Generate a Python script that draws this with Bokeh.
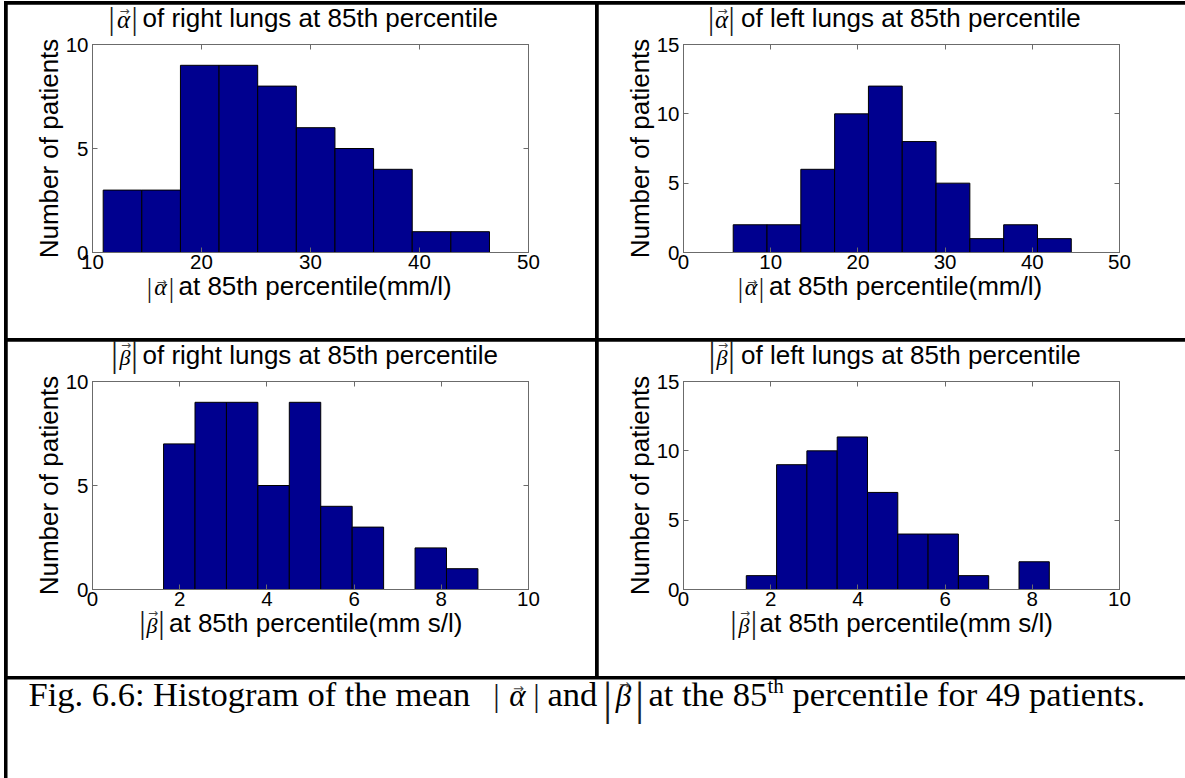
import math

from bokeh.embed import file_html
from bokeh.layouts import column, row
from bokeh.models import FixedTicker, Label, LinearAxis, Range1d
from bokeh.plotting import figure
from bokeh.resources import INLINE

# ---- histogram data: equal-width bins between lo and hi, counts per bin ----
alpha_right_range = (10.98, 46.42)
alpha_right_counts = [3, 3, 9, 9, 8, 6, 5, 4, 1, 1]

alpha_left_range = (5.70, 44.47)
alpha_left_counts = [2, 2, 6, 10, 12, 8, 5, 1, 2, 1]

beta_right_range = (1.63, 8.84)
beta_right_counts = [7, 9, 9, 5, 9, 4, 3, 0, 2, 1]

beta_left_range = (1.44, 8.39)
beta_left_counts = [1, 9, 10, 11, 7, 4, 4, 1, 0, 2]

alpha_x_ticks = [10, 20, 30, 40, 50]
alpha_left_x_ticks = [0, 10, 20, 30, 40, 50]
beta_x_ticks = [0, 2, 4, 6, 8, 10]
y_ticks_10 = [0, 5, 10]
y_ticks_15 = [0, 5, 10, 15]

BAR_FILL = "#00008F"
FRAME = "#6b6b6b"
SANS = "Liberation Sans"
SERIF = "Liberation Serif"
ARROWFONT = "DejaVu Sans"
PAGE_W, PAGE_H = 1185, 778

# distance (in em) from the centre of the ascent/descent box down to the baseline
MID_TO_BASE = {SANS: 0.3465, SERIF: 0.3375, ARROWFONT: 0.346}
# distance (in em) from the box centre down to the centre of the "|" glyph
BAR_DROP = 0.103


def bin_edges(rng, n):
    lo, hi = rng
    w = (hi - lo) / n
    return [lo + i * w for i in range(n)], [lo + (i + 1) * w for i in range(n)]


def style_axis(ax, ticks, show_labels):
    ax.ticker = FixedTicker(ticks=ticks)
    ax.major_tick_in = 5
    ax.major_tick_out = 0
    ax.minor_tick_line_color = None
    ax.axis_line_color = FRAME
    ax.major_tick_line_color = FRAME
    ax.major_label_text_font = SANS
    ax.major_label_text_font_size = "20.5px"
    ax.major_label_text_color = "black" if show_labels else None


def panel(rng, counts, x_range, x_ticks, y_max, y_ticks, width, height):
    p = figure(width=width, height=height, frame_width=436, frame_height=208,
               x_range=Range1d(*x_range), y_range=Range1d(0, y_max),
               min_border_left=85, min_border_right=width - 85 - 436,
               min_border_top=40, min_border_bottom=height - 40 - 208,
               output_backend="svg", toolbar_location=None)
    p.xgrid.visible = False
    p.ygrid.visible = False
    p.outline_line_color = FRAME
    p.background_fill_color = "white"
    p.border_fill_color = "white"

    style_axis(p.xaxis[0], x_ticks, True)
    p.xaxis[0].major_label_standoff = 2
    style_axis(p.yaxis[0], y_ticks, True)
    p.yaxis[0].major_label_standoff = 4

    top = LinearAxis()
    style_axis(top, x_ticks, False)
    p.add_layout(top, "above")
    right = LinearAxis()
    style_axis(right, y_ticks, False)
    p.add_layout(right, "right")

    lefts, rights = bin_edges(rng, len(counts))
    p.quad(left=lefts, right=rights, bottom=0, top=counts,
           fill_color=BAR_FILL, line_color="black", line_width=1)
    return p


p1 = panel(alpha_right_range, alpha_right_counts, (10, 50), alpha_x_ticks,
           10, y_ticks_10, 588, 334)
p2 = panel(alpha_left_range, alpha_left_counts, (0, 50), alpha_left_x_ticks,
           15, y_ticks_15, 587, 334)
p3 = panel(beta_right_range, beta_right_counts, (0, 10), beta_x_ticks,
           10, y_ticks_10, 588, 335)
p4 = panel(beta_left_range, beta_left_counts, (0, 10), beta_x_ticks,
           15, y_ticks_15, 587, 335)

# white caption cell
cap = figure(width=1178, height=99, x_range=Range1d(0, 1), y_range=Range1d(0, 1),
             min_border=0, output_backend="svg", toolbar_location=None)
cap.xaxis.visible = False
cap.yaxis.visible = False
cap.xgrid.visible = False
cap.ygrid.visible = False
cap.outline_line_color = None
cap.border_fill_color = "white"

# ---- text layer: one transparent figure in page pixels (y grows downward) ----
txt = figure(width=PAGE_W, height=PAGE_H, x_range=Range1d(0, PAGE_W),
             y_range=Range1d(PAGE_H, 0), min_border=0, output_backend="svg",
             toolbar_location=None,
             styles={"position": "absolute", "top": "0px", "left": "0px",
                     "pointer-events": "none"})
txt.xaxis.visible = False
txt.yaxis.visible = False
txt.xgrid.visible = False
txt.ygrid.visible = False
txt.outline_line_color = None
txt.background_fill_color = None
txt.border_fill_color = None


def label(x, base, text, font=SANS, size=26, style="normal", align="left",
          angle=0.0, color="black"):
    """Text whose baseline sits at page row `base` (or column, when rotated)."""
    shift = MID_TO_BASE[font] * size
    if angle:
        x, y = x - shift, base
    else:
        x, y = x, base - shift
    txt.add_layout(Label(x=x, y=y, text=text, text_font=font,
                         text_font_size=f"{size}px", text_font_style=style,
                         text_align=align, text_baseline="middle", angle=angle,
                         text_color=color))


def bar(x, centre, size):
    txt.add_layout(Label(x=x, y=centre - BAR_DROP * size, text="|",
                         text_font=SERIF, text_font_size=f"{size}px",
                         text_align="center", text_baseline="middle",
                         text_color="#1a1a1a"))


def arrow(x, centre, size):
    txt.add_layout(Label(x=x, y=centre, text="\u2192", text_font=ARROWFONT,
                         text_font_size=f"{size}px", text_align="center",
                         text_baseline="middle"))


def vec_abs(sym, xl, xr, xs, base, bar_c, arrow_c, sym_size, bar_size,
            arrow_size=12):
    """|vec sym|: two thin bars, an italic symbol and a small arrow above it."""
    bar(xl, bar_c, bar_size)
    bar(xr, bar_c, bar_size)
    label(xs, base, sym, font=SERIF, size=sym_size, style="italic",
          align="center")
    arrow(xs + 1, arrow_c, arrow_size)


ALPHA, BETA = "\u03b1", "\u03b2"

# frame origins (left, top, bottom) of the four histograms on the page
frames = {
    "p1": (92, 44, 252),
    "p2": (683, 44, 252),
    "p3": (92, 381, 589),
    "p4": (683, 381, 589),
}

# per panel: symbol, title text, title group x offsets, xlabel text, xlabel offsets
panel_text = [
    ("p1", ALPHA, "of right lungs at 85th percentile", (19, 42, 31, 50),
     "at 85th percentile(mm/l)", (57, 79, 68, 86)),
    ("p2", ALPHA, "of left lungs at 85th percentile", (27.5, 48, 38, 57.5),
     "at 85th percentile(mm/l)", (57, 78, 67.5, 85.5)),
    ("p3", BETA, "of right lungs at 85th percentile", (22, 42, 32.5, 50),
     "at 85th percentile(mm s/l)", (50, 69, 59.5, 76.5)),
    ("p4", BETA, "of left lungs at 85th percentile", (28.5, 48, 38.5, 57.5),
     "at 85th percentile(mm s/l)", (50, 70.5, 60.5, 76)),
]

for key, sym, title, tx, xlab, xx in panel_text:
    fl, ft, fb = frames[key]
    a = sym == ALPHA
    # title
    vec_abs(sym, fl + tx[0], fl + tx[1], fl + tx[2], ft - 17,
            ft - (23 if a else 23), ft - (34 if a else 36.5),
            25 if a else 22, 31 if a else 35)
    label(fl + tx[3], ft - 17, title, size=26)
    # x axis label
    vec_abs(sym, fl + xx[0], fl + xx[1], fl + xx[2], fb + 43,
            fb + (38 if a else 36), fb + (29 if a else 23),
            24 if a else 22, 27 if a else 32)
    label(fl + xx[3], fb + 43, xlab, size=26)
    # y axis label (baseline column 34 px left of the frame)
    label(fl - 34, (ft + fb) / 2, "Number of patients", size=26,
          align="center", angle=math.pi / 2)

# ---- caption ----
CAP = 34.5
cap_base = 705
label(28, cap_base, "Fig. 6.6: Histogram of the mean", font=SERIF, size=CAP)
vec_abs(ALPHA, 496, 536, 517, cap_base, 698, 688, 31, 32, 13)
label(547, cap_base, "and", font=SERIF, size=CAP)
vec_abs(BETA, 607, 639, 623, cap_base, 703, 684, 31, 46, 13)
label(648, cap_base, "at the 85", font=SERIF, size=CAP)
label(767, cap_base - 12, "th", font=SERIF, size=21)
label(792, cap_base, "percentile for 49 patients.", font=SERIF, size=CAP)

grid = column(row(p1, p2, spacing=3), row(p3, p4, spacing=3), cap, spacing=3,
              styles={"background-color": "black", "padding": "3px 0 0 3px"})
page = column(grid, txt, styles={"background-color": "white",
                                 "padding": "1px 0 0 4px",
                                 "position": "relative"})

open("out.html", "w").write(file_html(page, INLINE))
